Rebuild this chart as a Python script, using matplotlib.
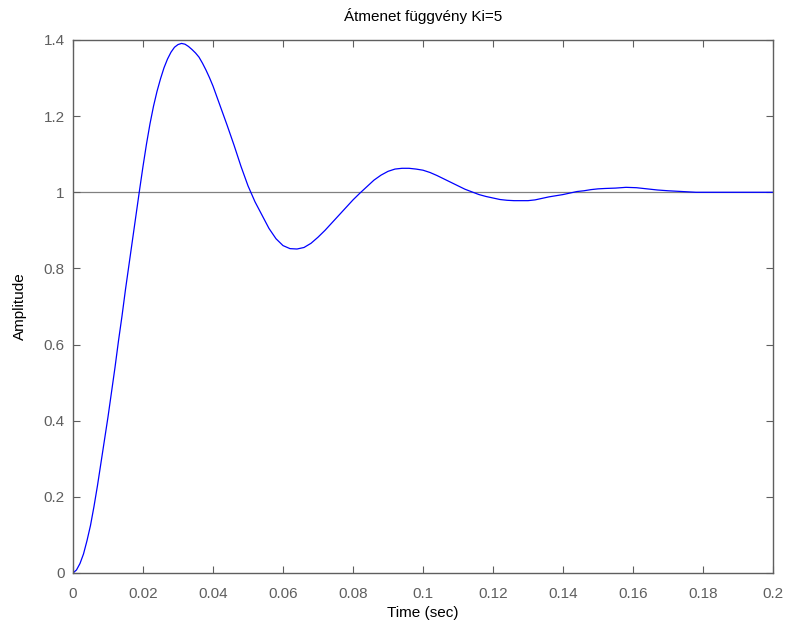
import matplotlib
matplotlib.use('Agg')
import matplotlib.pyplot as plt

plt.rcParams['font.family'] = ['Liberation Sans', 'DejaVu Sans']

# step response
t = [0, 0.001, 0.002, 0.003, 0.004, 0.005, 0.006, 0.007, 0.008, 0.009,
     0.010, 0.011, 0.012, 0.013, 0.014, 0.015, 0.016, 0.017, 0.018, 0.019,
     0.020, 0.021, 0.022, 0.023, 0.024, 0.025, 0.026, 0.027, 0.028, 0.029,
     0.030, 0.031, 0.032, 0.033, 0.034, 0.035, 0.036, 0.037, 0.038, 0.039,
     0.040, 0.042, 0.044, 0.046, 0.048, 0.050, 0.052, 0.054, 0.056, 0.058,
     0.060, 0.062, 0.064, 0.066, 0.068, 0.070, 0.072, 0.074, 0.076, 0.078,
     0.080, 0.082, 0.084, 0.086, 0.088, 0.090, 0.092, 0.094, 0.096, 0.098,
     0.100, 0.102, 0.104, 0.106, 0.108, 0.110, 0.112, 0.114, 0.116, 0.118,
     0.120, 0.122, 0.124, 0.126, 0.128, 0.130, 0.132, 0.134, 0.136, 0.138,
     0.140, 0.142, 0.144, 0.146, 0.148, 0.150, 0.152, 0.155, 0.158, 0.161,
     0.164, 0.167, 0.170, 0.174, 0.178, 0.200]
amp = [0, 0.008, 0.025, 0.05, 0.085, 0.125, 0.175, 0.23, 0.29, 0.35,
       0.41, 0.475, 0.54, 0.61, 0.675, 0.745, 0.81, 0.875, 0.94, 1.005,
       1.068, 1.127, 1.18, 1.226, 1.265, 1.298, 1.327, 1.35, 1.368, 1.381,
       1.388, 1.391, 1.389, 1.383, 1.375, 1.366, 1.355, 1.339, 1.321, 1.301,
       1.279, 1.228, 1.177, 1.124, 1.068, 1.017, 0.975, 0.94, 0.905, 0.878,
       0.86, 0.852, 0.851, 0.855, 0.866, 0.882, 0.9, 0.92, 0.94, 0.96,
       0.98, 0.998, 1.015, 1.032, 1.045, 1.055, 1.061, 1.063, 1.063, 1.061,
       1.058, 1.052, 1.044, 1.035, 1.026, 1.017, 1.008, 1.001, 0.994, 0.989,
       0.985, 0.981, 0.979, 0.978, 0.978, 0.978, 0.980, 0.984, 0.988, 0.991,
       0.994, 0.998, 1.002, 1.004, 1.007, 1.009, 1.010, 1.011, 1.013, 1.012,
       1.009, 1.006, 1.004, 1.002, 1.0, 1.0]

xticks = [0, 0.02, 0.04, 0.06, 0.08, 0.1, 0.12, 0.14, 0.16, 0.18, 0.2]
xlabels = ['0', '0.02', '0.04', '0.06', '0.08', '0.1', '0.12', '0.14', '0.16', '0.18', '0.2']
yticks = [0, 0.2, 0.4, 0.6, 0.8, 1, 1.2, 1.4]
ylabels = ['0', '0.2', '0.4', '0.6', '0.8', '1', '1.2', '1.4']

grey = '#5f5f5f'

fig = plt.figure(figsize=(7.88, 6.32), dpi=100)
ax = fig.add_axes([73/788, 59/632, 700/788, 533/632])

ax.axhline(1, color='#808080', lw=0.9, zorder=1)
ax.plot(t, amp, color='#0000ff', lw=0.9, zorder=2)

ax.set_xlim(0, 0.2)
ax.set_ylim(0, 1.4)
ax.set_xticks(xticks)
ax.set_xticklabels(xlabels)
ax.set_yticks(yticks)
ax.set_yticklabels(ylabels)
ax.tick_params(direction='in', top=True, right=True, length=5, width=0.8,
               color=grey, labelcolor=grey, labelsize=11, pad=6)
ax.tick_params(axis='x', pad=10)
for s in ax.spines.values():
    s.set_color(grey)
    s.set_linewidth(1.0)

ax.set_title('Átmenet függvény Ki=5', fontsize=11, pad=14)
ax.set_xlabel('Time (sec)', fontsize=11, labelpad=4)
ax.set_ylabel('Amplitude', fontsize=11, labelpad=12)

fig.savefig('out.png', dpi=100)
